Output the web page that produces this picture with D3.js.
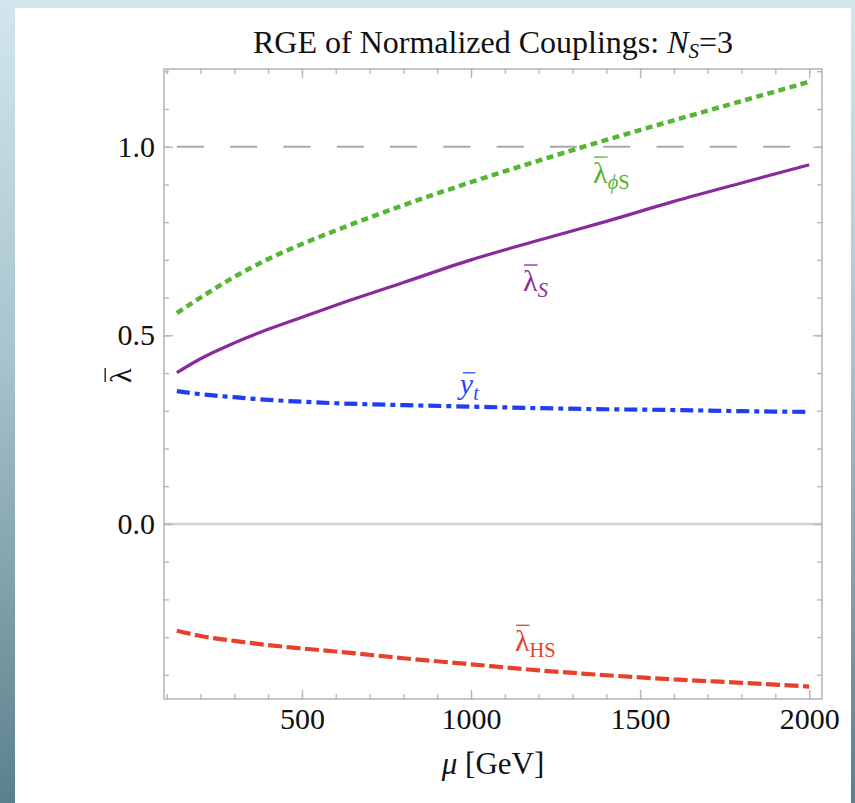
<!DOCTYPE html>
<html>
<head>
<meta charset="utf-8">
<script src="https://cdn.jsdelivr.net/npm/d3@7"></script>
<style>
  body { margin: 0; background: #fff; }
  svg { display: block; }
  text { font-family: "Liberation Serif", "Times New Roman", serif; }
  .axis path.domain { display: none; }
  .axis line { stroke: #b4b4b4; stroke-width: 1.3; }
  .axis text { fill: #111; font-size: 30px; }
</style>
</head>
<body>
<script>
"use strict";

// scale mu [GeV] and the four normalized couplings
var mu       = [130, 200, 300, 400, 500, 600, 800, 1000, 1200, 1400, 1600, 1800, 2000];
var lamPhiS  = [0.559, 0.600, 0.655, 0.702, 0.742, 0.778, 0.845, 0.906, 0.963, 1.018, 1.070, 1.121, 1.172];
var lamS     = [0.401, 0.438, 0.480, 0.516, 0.548, 0.580, 0.640, 0.700, 0.752, 0.802, 0.855, 0.904, 0.952];
var yTop     = [0.352, 0.344, 0.336, 0.329, 0.324, 0.320, 0.315, 0.311, 0.307, 0.304, 0.302, 0.299, 0.297];
var lamHS    = [-0.283, -0.297, -0.310, -0.321, -0.330, -0.338, -0.356, -0.372, -0.388, -0.401, -0.412, -0.421, -0.431];
var unitLine = [1, 1];

var xMajor = [500, 1000, 1500, 2000];
var xMinor = d3.range(100, 2001, 100);
var yMajor = [0.0, 0.5, 1.0];
var yMinor = d3.range(-4, 13).map(function(i){ return i / 10; });

// page + plot geometry
var W = 855, H = 803;
var margin = {top: 69, right: 33, bottom: 104, left: 164},
    width = W - margin.left - margin.right,
    height = H - margin.top - margin.bottom;

var svg = d3.select("body").append("svg")
    .attr("width", W)
    .attr("height", H);

// bluish wallpaper behind the white sheet
var grad = svg.append("defs").append("linearGradient")
    .attr("id", "bg").attr("x1", 0).attr("y1", 0).attr("x2", 0).attr("y2", 1);
grad.append("stop").attr("offset", 0).attr("stop-color", "#d2e6ed");
grad.append("stop").attr("offset", 0.45).attr("stop-color", "#a7c3cc");
grad.append("stop").attr("offset", 1).attr("stop-color", "#5b808c");
svg.append("rect").attr("width", W).attr("height", H).attr("fill", "url(#bg)");
svg.append("rect").attr("x", 15).attr("y", 8).attr("width", 836).attr("height", H - 8).attr("fill", "#fff");

var xScale = d3.scaleLinear().domain([92, 2038]).range([0, width]);
var yScale = d3.scaleLinear().domain([-0.464, 1.206]).range([height, 0]);

var view = svg.append("g")
    .attr("transform", "translate(" + margin.left + "," + margin.top + ")");

// zero line
view.append("line")
    .attr("x1", 0).attr("x2", width)
    .attr("y1", yScale(0)).attr("y2", yScale(0))
    .attr("stroke", "#d2d2d2").attr("stroke-width", 2.5);

// frame
view.append("rect")
    .attr("width", width).attr("height", height)
    .attr("fill", "none").attr("stroke", "#b4b4b4").attr("stroke-width", 1.5);

// ticks on all four sides, pointing inwards
function addAxis(axisFn, scale, vals, size, labels, transform) {
  var ax = axisFn(scale).tickValues(vals).tickSize(-size).tickPadding(labels ? 9 : 0);
  if (!labels) ax.tickFormat("");
  else ax.tickFormat(d3.format(scale === yScale ? ".1f" : "d"));
  return view.append("g").attr("class", "axis").attr("transform", transform || null).call(ax);
}
addAxis(d3.axisBottom, xScale, xMinor, 5, false, "translate(0," + height + ")");
addAxis(d3.axisBottom, xScale, xMajor, 9, true, "translate(0," + height + ")");
addAxis(d3.axisTop, xScale, xMinor, 5, false);
addAxis(d3.axisTop, xScale, xMajor, 9, false);
addAxis(d3.axisLeft, yScale, yMinor, 5, false);
addAxis(d3.axisLeft, yScale, yMajor, 9, true);
addAxis(d3.axisRight, yScale, yMinor, 5, false, "translate(" + width + ",0)");
addAxis(d3.axisRight, yScale, yMajor, 9, false, "translate(" + width + ",0)");

// curves
var line = d3.line()
    .x(function(d) { return xScale(d[0]); })
    .y(function(d) { return yScale(d[1]); })
    .curve(d3.curveMonotoneX);

function pairs(vals) { return mu.map(function(m, i){ return [m, vals[i]]; }); }

var series = [
  {name: "one",     data: [[mu[0], unitLine[0]], [mu[mu.length-1], unitLine[1]]], color: "#a9a9a9", w: 2,   dash: "27,26.3"},
  {name: "lamPhiS", data: pairs(lamPhiS), color: "#55b632", w: 4.5, dash: "7,4.5"},
  {name: "lamS",    data: pairs(lamS),    color: "#8a2a9c", w: 3.2, dash: null},
  {name: "yt",      data: pairs(yTop),    color: "#1f3ef2", w: 4.2, dash: "13,5,5,5"},
  {name: "lamHS",   data: pairs(lamHS),   color: "#e8412b", w: 4.2, dash: "14,4.5"}
];

view.selectAll(".curve").data(series).enter()
  .append("path")
    .attr("class", "curve")
    .attr("d", function(d){ return line(d.data); })
    .attr("fill", "none")
    .attr("stroke", function(d){ return d.color; })
    .attr("stroke-width", function(d){ return d.w; })
    .attr("stroke-dasharray", function(d){ return d.dash; });

// curve labels: barred symbol + subscript, anchored in data coordinates
var labels = [
  {mu: 1361, v: 0.904, main: "λ", mainStyle: "normal", sub: [["ϕ", "italic"], ["S", "normal"]], color: "#55b035", bar: 0.86},
  {mu: 1154, v: 0.618, main: "λ", mainStyle: "normal", sub: [["S", "italic"]], color: "#8a2a9c", bar: 0.86},
  {mu: 967,  v: 0.345, main: "y", mainStyle: "italic", sub: [["t", "italic"]], color: "#2a48f0", bar: 0.70},
  {mu: 1130, v: -0.337, main: "λ", mainStyle: "normal", sub: [["HS", "normal"]], color: "#e8412b", bar: 0.86}
];

function barredLabel(g, d, size) {
  var t = g.append("text")
      .attr("font-size", size)
      .attr("fill", d.color);
  var mainT = t.append("tspan").attr("font-style", d.mainStyle).text(d.main);
  d.sub.forEach(function(s, i){
    t.append("tspan")
      .attr("font-size", size * 0.68)
      .attr("font-style", s[1])
      .attr("dy", i === 0 ? size * 0.2 : null)
      .text(s[0]);
  });
  var wMain = mainT.node().getComputedTextLength();
  var off = d.mainStyle === "italic" ? 2 : 0;
  g.append("line")
      .attr("x1", off + 1).attr("x2", off + wMain)
      .attr("y1", -size * d.bar).attr("y2", -size * d.bar)
      .attr("stroke", d.color).attr("stroke-width", 1.3);
}

labels.forEach(function(d){
  var g = view.append("g")
      .attr("transform", "translate(" + xScale(d.mu) + "," + yScale(d.v) + ")");
  barredLabel(g, d, 30);
});

// title
var title = svg.append("text")
    .attr("x", margin.left + width / 2).attr("y", 53)
    .attr("text-anchor", "middle")
    .attr("font-size", 32).attr("fill", "#111");
title.append("tspan").text("RGE of Normalized Couplings: ");
title.append("tspan").attr("font-style", "italic").text("N");
title.append("tspan").attr("font-style", "italic").attr("font-size", 21).attr("dy", 5).text("S");
title.append("tspan").attr("dy", -5).text("=3");

// x axis title
var xt = svg.append("text")
    .attr("x", margin.left + width / 2).attr("y", 774)
    .attr("text-anchor", "middle")
    .attr("font-size", 31).attr("fill", "#111");
xt.append("tspan").attr("font-style", "italic").text("μ");
xt.append("tspan").text(" [GeV]");

// y axis title (rotated barred lambda)
var yt = svg.append("g").attr("transform", "translate(131,375) rotate(-90)");
barredLabel(yt, {main: "λ", mainStyle: "normal", sub: [], color: "#111", bar: 0.86}, 30);
yt.select("text").attr("x", -8);
yt.select("line").attr("x1", -7).attr("x2", 7);
</script>
</body>
</html>
